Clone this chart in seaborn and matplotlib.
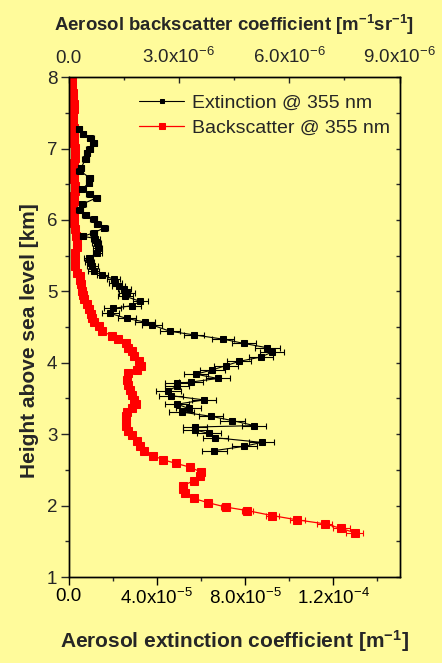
import numpy as np
import pandas as pd
import matplotlib
matplotlib.use("Agg")
import matplotlib.pyplot as plt
import seaborn as sns
from matplotlib.ticker import FixedLocator, MultipleLocator

# ---------------- data ----------------
# Extinction @ 355 nm (bottom axis), height in km, value in 1e-5 m^-1
ext_height = [2.77, 2.83, 2.885, 2.95, 3.01, 3.06, 3.10, 3.12, 3.19, 3.25,
              3.31, 3.36, 3.42, 3.48, 3.54, 3.61, 3.67, 3.71, 3.73, 3.78,
              3.84, 3.90, 3.96, 4.02, 4.08, 4.15, 4.21, 4.27, 4.33, 4.39,
              4.44, 4.53, 4.57, 4.62, 4.69, 4.76, 4.80, 4.86, 4.93, 4.98,
              5.03, 5.07, 5.12, 5.17, 5.23, 5.28, 5.35, 5.41, 5.47, 5.54,
              5.61, 5.68, 5.74, 5.77, 5.82, 5.89, 5.95, 6.01, 6.07, 6.14,
              6.22, 6.31, 6.37, 6.43, 6.52, 6.59, 6.69, 6.73, 6.85, 6.94,
              7.00, 7.08, 7.15, 7.21, 7.28]
ext_value = [6.61, 7.97, 8.75, 6.66, 6.36, 5.74, 5.74, 8.42, 7.43, 6.46,
             5.12, 5.44, 4.93, 6.13, 4.64, 4.53, 4.91, 4.91, 5.55, 6.77,
             5.77, 6.52, 7.13, 7.74, 8.71, 9.23, 9.01, 7.96, 7.02, 5.70,
             4.61, 3.78, 3.47, 2.65, 1.90, 2.00, 2.88, 3.25, 2.58, 2.65,
             2.53, 2.27, 2.12, 2.05, 1.52, 1.14, 1.07, 0.96, 0.92, 1.30,
             1.33, 1.27, 1.22, 0.66, 1.14, 1.63, 1.30, 1.14, 0.77, 0.51,
             0.62, 1.27, 0.96, 0.62, 0.92, 0.96, 0.51, 0.57, 0.77, 0.84,
             0.96, 1.14, 0.99, 0.66, 0.47]
ext_error = [0.55, 0.55, 0.55, 0.55, 0.55, 0.55, 0.55, 0.55, 0.55, 0.55,
             0.55, 0.55, 0.55, 0.55, 0.55, 0.55, 0.55, 0.55, 0.55, 0.55,
             0.55, 0.55, 0.55, 0.55, 0.55, 0.55, 0.55, 0.55, 0.5, 0.45,
             0.45, 0.45, 0.45, 0.4, 0.4, 0.4, 0.4, 0.35, 0.35, 0.35,
             0.3, 0.3, 0.3, 0.3, 0.25, 0.25, 0.25, 0.2, 0.2, 0.2,
             0.2, 0.2, 0.2, 0.15, 0.15, 0.15, 0.15, 0.15, 0.15, 0.15,
             0.15, 0.15, 0.15, 0.15, 0.15, 0.15, 0.15, 0.15, 0.15, 0.15,
             0.15, 0.15, 0.15, 0.15, 0.15]

# Backscatter @ 355 nm (top axis), height in km, value in 1e-6 m^-1 sr^-1
bsc_height = [1.62, 1.68, 1.745, 1.80, 1.86, 1.93, 1.98, 2.04, 2.10, 2.17,
              2.23, 2.28, 2.35, 2.42, 2.47, 2.54, 2.59, 2.64, 2.70, 2.77,
              2.83, 2.90, 2.99, 3.04, 3.11, 3.18, 3.25, 3.31, 3.37, 3.42,
              3.48, 3.55, 3.62, 3.69, 3.76, 3.85, 3.90, 3.96, 4.03, 4.09,
              4.16, 4.21, 4.27, 4.33, 4.38, 4.44, 4.51, 4.57, 4.62, 4.68,
              4.75, 4.82, 4.89, 4.95, 5.00, 5.10, 5.16, 5.21, 5.26, 5.35,
              5.45, 5.54, 5.62, 5.69, 5.78, 5.87, 5.96, 6.05, 6.12, 6.20,
              6.27, 6.34, 6.41, 6.48, 6.57, 6.66, 6.73, 6.80, 6.87, 6.94,
              7.01, 7.08, 7.15, 7.22, 7.29, 7.36, 7.45, 7.55, 7.62, 7.69,
              7.78, 7.87, 7.97]
bsc_value = [7.78, 7.42, 6.96, 6.22, 5.54, 4.86, 4.27, 3.80, 3.40, 3.17,
             3.10, 3.12, 3.41, 3.58, 3.60, 3.29, 2.93, 2.58, 2.30, 2.06,
             1.95, 1.86, 1.73, 1.63, 1.57, 1.55, 1.55, 1.59, 1.73, 1.84,
             1.79, 1.73, 1.68, 1.63, 1.59, 1.63, 1.86, 1.97, 1.91, 1.79,
             1.73, 1.63, 1.55, 1.34, 1.18, 0.91, 0.82, 0.69, 0.65, 0.62,
             0.55, 0.49, 0.41, 0.39, 0.37, 0.34, 0.30, 0.32, 0.24, 0.19,
             0.18, 0.19, 0.22, 0.22, 0.20, 0.19, 0.16, 0.14, 0.13, 0.13,
             0.15, 0.16, 0.18, 0.19, 0.16, 0.14, 0.16, 0.16, 0.18, 0.19,
             0.18, 0.16, 0.15, 0.14, 0.15, 0.13, 0.13, 0.14, 0.14, 0.13,
             0.12, 0.10, 0.10]
bsc_error = [0.23, 0.22, 0.20, 0.20, 0.18, 0.15, 0.12, 0.10, 0.08, 0.08,
             0.08, 0.08, 0.08, 0.08, 0.08, 0.07, 0.07, 0.07, 0.06, 0.06,
             0.06, 0.06, 0.05, 0.05, 0.05, 0.05, 0.05, 0.05, 0.05, 0.05,
             0.05, 0.05, 0.05, 0.05, 0.05, 0.05, 0.05, 0.05, 0.05, 0.05,
             0.05, 0.05, 0.05, 0.04, 0.04, 0.04, 0.04, 0.04, 0.04, 0.04,
             0.03, 0.03, 0.03, 0.03, 0.03, 0.03, 0.03, 0.03, 0.03, 0.03,
             0.03, 0.03, 0.03, 0.03, 0.03, 0.03, 0.03, 0.03, 0.03, 0.03,
             0.03, 0.03, 0.03, 0.03, 0.03, 0.03, 0.03, 0.03, 0.03, 0.03,
             0.03, 0.03, 0.03, 0.03, 0.03, 0.03, 0.03, 0.03, 0.03, 0.03,
             0.03, 0.03, 0.03]

bottom_ticks = [0.0, 4.0e-5, 8.0e-5, 1.2e-4]
bottom_labels = ["0.0", "4.0x10$^{-5}$", "8.0x10$^{-5}$", "1.2x10$^{-4}$"]
top_ticks = [0.0, 3.0e-6, 6.0e-6, 9.0e-6]
top_labels = ["0.0", "3.0x10$^{-6}$", "6.0x10$^{-6}$", "9.0x10$^{-6}$"]
y_ticks = [1, 2, 3, 4, 5, 6, 7, 8]

ext_df = pd.DataFrame({"height": ext_height,
                       "ext": np.array(ext_value) * 1e-5,
                       "err": np.array(ext_error) * 1e-5})
bsc_df = pd.DataFrame({"height": bsc_height,
                       "bsc": np.array(bsc_value) * 1e-6,
                       "err": np.array(bsc_error) * 1e-6})

# ---------------- style ----------------
BG = "#FFFB9B"
sns.set_theme(style="ticks")
plt.rcParams["font.family"] = ["Liberation Sans", "DejaVu Sans"]
plt.rcParams["mathtext.fontset"] = "custom"
plt.rcParams["mathtext.rm"] = "Liberation Sans"
plt.rcParams["mathtext.it"] = "Liberation Sans:italic"
plt.rcParams["mathtext.bf"] = "Liberation Sans:bold"
plt.rcParams["axes.linewidth"] = 1.0

fig = plt.figure(figsize=(4.42, 6.63), dpi=100)
fig.patch.set_facecolor(BG)
ax = fig.add_axes([0.155, 0.1297, 0.749, 0.754])
ax2 = ax.twiny()
ax2.set_facecolor(BG)
ax.set_zorder(ax2.get_zorder() + 1)
ax.patch.set_visible(False)

# backscatter (top axis)
ax2.errorbar(bsc_df["bsc"], bsc_df["height"], xerr=bsc_df["err"], fmt="none",
             ecolor="red", elinewidth=0.8, capsize=2.5, capthick=0.8)
sns.lineplot(data=bsc_df, x="bsc", y="height", orient="y", sort=False,
             estimator=None, color="red", marker="s", markersize=5.2,
             markeredgecolor="red", linewidth=0.9, ax=ax2)

# extinction (bottom axis)
ax.errorbar(ext_df["ext"], ext_df["height"], xerr=ext_df["err"], fmt="none",
            ecolor="black", elinewidth=0.8, capsize=2.5, capthick=0.8)
sns.lineplot(data=ext_df, x="ext", y="height", orient="y", sort=False,
             estimator=None, color="black", marker="s", markersize=4.6,
             markeredgecolor="black", linewidth=0.8, ax=ax)

# limits
ax.set_xlim(0, 1.5e-4)
ax2.set_xlim(0, 9.0e-6)
ax.set_ylim(1, 8)

# ticks
ax.xaxis.set_major_locator(FixedLocator(bottom_ticks))
ax.set_xticklabels(bottom_labels)
ax.xaxis.set_minor_locator(MultipleLocator(2e-5))
ax.yaxis.set_major_locator(FixedLocator(y_ticks))
ax.set_yticklabels([str(v) for v in y_ticks])
ax.yaxis.set_minor_locator(MultipleLocator(0.5))
ax.tick_params(axis="x", which="major", direction="out", length=6, width=1,
               labelsize=13.5, pad=2, colors="black")
ax.tick_params(axis="x", which="minor", direction="out", length=3, width=1)
ax.tick_params(axis="y", which="major", direction="out", length=6, width=1,
               labelsize=13.5, pad=2)
ax.tick_params(axis="y", which="minor", direction="out", length=3, width=1)

ax2.xaxis.set_major_locator(FixedLocator(top_ticks))
ax2.set_xticklabels(top_labels)
ax2.xaxis.set_minor_locator(MultipleLocator(1.5e-6))
ax2.tick_params(axis="x", which="major", direction="in", length=4, width=1,
                labelsize=13.5, pad=7)
ax2.tick_params(axis="x", which="minor", direction="in", length=2.5, width=1)
ax2.yaxis.set_visible(True)
ax2.yaxis.set_minor_locator(MultipleLocator(0.5))
ax2.tick_params(axis="y", which="both", left=False, right=True,
                labelleft=False, labelright=False, direction="in",
                length=3, width=1)
ax2.set_ylabel("")

for a in (ax, ax2):
    for s in a.spines.values():
        s.set_color("black")
        s.set_linewidth(1.0)

# labels
ax.set_xlabel(r"Aerosol extinction coefficient [m$^{\mathbf{-1}}$]",
              fontsize=15, fontweight="bold")
ax.xaxis.set_label_coords(0.5, -0.102)
ax2.set_xlabel(r"Aerosol backscatter coefficient [m$^{\mathbf{-1}}$sr$^{\mathbf{-1}}$]",
               fontsize=13.4, fontweight="bold")
ax2.xaxis.set_label_coords(0.5, 1.092)
ax.set_ylabel("Height above sea level [km]", fontsize=15, fontweight="bold")
ax.yaxis.set_label_coords(-0.089, 0.472)

# legend
h_ext = ax.lines[-1]
h_bsc = ax2.lines[-1]
leg = ax.legend([h_ext, h_bsc], ["Extinction @ 355 nm", "Backscatter @ 355 nm"],
                loc="upper right", bbox_to_anchor=(1.0, 0.985), frameon=False,
                fontsize=14, handlelength=2.3, handletextpad=0.4,
                labelspacing=0.35, borderaxespad=0.1, markerscale=0.75)

fig.savefig("out.png", dpi=100, facecolor=BG)
